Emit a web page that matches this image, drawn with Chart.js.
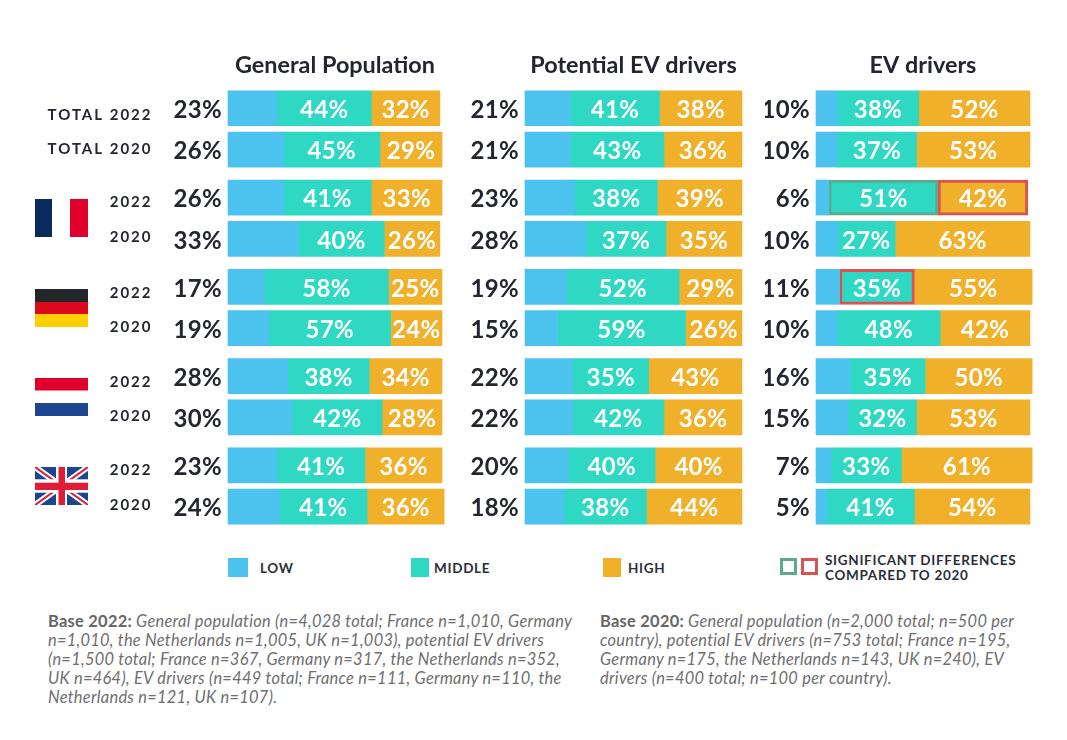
<!DOCTYPE html>
<html><head><meta charset="utf-8">
<script src="https://cdn.jsdelivr.net/npm/chart.js@4"></script>
<style>
html,body{margin:0;padding:0;background:#fff;width:1067px;height:740px;overflow:hidden;font-family:Lato,sans-serif}
canvas{position:absolute}
.sw{position:absolute}
.leg{position:absolute;font:700 13.5px Lato;color:#2b2e38;letter-spacing:.7px;white-space:nowrap;line-height:15px}
.note{position:absolute;font:italic 400 16.4px/19px Lato;letter-spacing:.28px;color:#6e6e6e;white-space:nowrap}
.note b{font-style:normal;font-weight:700;color:#666}
svg{position:absolute;left:35px}
</style></head><body>
<script>
const rowLabels=["TOTAL 2022","TOTAL 2020","2022","2020","2022","2020","2022","2020","2022","2020"];
const rowGroups=[0,0,1,1,2,2,3,3,4,4];
const labelShift=[7,0,5,-2,6,-1,6,-1,5,-2];
const panelTitles=["General Population","Potential EV drivers","EV drivers"];
const seriesNames=["Low","Middle","High"];
const gpLow=[23,26,26,33,17,19,28,30,23,24];
const gpMiddle=[44,45,41,40,58,57,38,42,41,41];
const gpHigh=[32,29,33,26,25,24,34,28,36,36];
const pevLow=[21,21,23,28,19,15,22,22,20,18];
const pevMiddle=[41,43,38,37,52,59,35,42,40,38];
const pevHigh=[38,36,39,35,29,26,43,36,40,44];
const evLow=[10,10,6,10,11,10,16,15,7,5];
const evMiddle=[38,37,51,27,35,48,35,32,33,41];
const evHigh=[52,53,42,63,55,42,50,53,61,54];
const C={low:'#4cc3ee',mid:'#2fd8c3',high:'#f0b02a',green:'#5fa88c',red:'#dc5252',ink:'#23262f'};
const FONT='Lato';
const rowPos=rowLabels.map((_,i)=>i+0.162*rowGroups[i]);

const valueLabels={id:'valueLabels',afterDatasetsDraw(ch){
  const c=ch.ctx;c.save();c.textBaseline='middle';
  ch.data.datasets.forEach((ds,d)=>{
    ch.getDatasetMeta(d).data.forEach((el,i)=>{
      const txt=ds.data[i].x+'%';
      c.letterSpacing='0.3px';
      c.font='700 24px '+FONT;
      if(d===0){c.fillStyle=C.ink;c.textAlign='right';c.fillText(txt,el.base-6,el.y+2);}
      else{c.fillStyle='#fff';c.textAlign='center';c.fillText(txt,(el.base+el.x)/2,el.y+2);}
    });
  });
  c.restore();
}};
const rowText={id:'rowText',afterDatasetsDraw(ch){
  const c=ch.ctx,y=ch.scales.y;c.save();
  c.textBaseline='middle';c.textAlign='right';c.fillStyle=C.ink;
  c.font='700 15px '+FONT;c.letterSpacing='2px';
  rowLabels.forEach((l,i)=>c.fillText(l,152.5,y.getPixelForValue(rowPos[i])+labelShift[i]));
  c.restore();
}};

function panel(left,cLeft,cWidth,area,title,low,mid,high,marks,plugins){
  const cv=document.createElement('canvas');
  cv.width=cWidth;cv.height=479;cv.style.left=cLeft+'px';cv.style.top='51px';
  document.body.appendChild(cv);
  const pts=a=>a.map((v,i)=>({x:v,y:rowPos[i]}));
  const ds=(name,a,col,mk)=>({label:name,data:pts(a),backgroundColor:col,clip:false,
    barThickness:35,borderSkipped:false,
    borderWidth:a.map((_,i)=>mk&&mk[i]?3:0),
    borderColor:a.map((_,i)=>mk&&mk[i]?mk[i]:col)});
  new Chart(cv,{type:'bar',
    data:{datasets:[ds(seriesNames[0],low,C.low),ds(seriesNames[1],mid,C.mid,marks&&marks.mid),ds(seriesNames[2],high,C.high,marks&&marks.high)]},
    plugins:[valueLabels].concat(plugins||[]),
    options:{indexAxis:'y',responsive:false,animation:false,devicePixelRatio:1,
      layout:{padding:{left:left,right:cWidth-left-area,top:0,bottom:0}},
      scales:{x:{type:'linear',stacked:true,min:0,max:100,display:false},
              y:{type:'linear',stacked:true,offset:false,reverse:true,min:-0.683,max:10.213,display:false}},
      plugins:{legend:{display:false},tooltip:{enabled:false},
        title:{display:true,text:title,fullSize:false,color:C.ink,font:{family:FONT,size:23.4,weight:'700'},padding:{top:0,bottom:1}}}}});
}
const G=C.green,R=C.red;
panel(228,0,462,214,panelTitles[0],gpLow,gpMiddle,gpHigh,null,[rowText]);
panel(63,462,303,217,panelTitles[1],pevLow,pevMiddle,pevHigh);
panel(51,765,302,214,panelTitles[2],evLow,evMiddle,evHigh,
  {mid:[0,0,G,0,R,0,0,0,0,0],high:[0,0,R,0,0,0,0,0,0,0]});
</script>

<svg style="top:199px" width="53" height="38"><rect width="17" height="38" fill="#0a2a5e"/><rect x="35" width="18" height="38" fill="#e0002b"/></svg>
<svg style="top:289px" width="53" height="38"><rect width="53" height="13" fill="#23262b"/><rect y="13" width="53" height="12" fill="#dd0a1e"/><rect y="25" width="53" height="13" fill="#fcd000"/></svg>
<svg style="top:378px" width="53" height="38"><rect width="53" height="12.5" fill="#e0002b"/><rect y="25" width="53" height="13" fill="#1d4691"/></svg>
<svg style="top:467px" width="53" height="38" viewBox="0 0 53 38">
<rect width="53" height="38" fill="#1d4691"/>
<path d="M0 0L53 38M53 0L0 38" stroke="#fff" stroke-width="6"/>
<path d="M0 0L53 38M53 0L0 38" stroke="#df1e36" stroke-width="2"/>
<rect x="21" width="11" height="38" fill="#fff"/><rect y="12.3" width="53" height="13.4" fill="#fff"/>
<rect x="23.5" width="6.5" height="38" fill="#df1e36"/><rect y="15.7" width="53" height="7.3" fill="#df1e36"/>
</svg>

<div class="sw" style="left:228px;top:558px;width:20px;height:19px;background:#4cc3ee"></div>
<div class="leg" style="left:260px;top:561px">LOW</div>
<div class="sw" style="left:411px;top:558px;width:18px;height:19px;background:#2fd8c3"></div>
<div class="leg" style="left:434px;top:561px">MIDDLE</div>
<div class="sw" style="left:603px;top:558px;width:18px;height:19px;background:#f0b02a"></div>
<div class="leg" style="left:628px;top:561px">HIGH</div>
<div class="sw" style="left:780px;top:558px;width:11px;height:11px;border:3px solid #5fa88c"></div>
<div class="sw" style="left:801px;top:558px;width:11px;height:11px;border:3px solid #dc5252"></div>
<div class="leg" style="left:825px;top:553px">SIGNIFICANT DIFFERENCES<br>COMPARED TO 2020</div>

<div class="note" style="left:48px;top:611px"><b>Base 2022:</b> General population (n=4,028 total; France n=1,010, Germany<br>n=1,010, the Netherlands n=1,005, UK n=1,003), potential EV drivers<br>(n=1,500 total; France n=367, Germany n=317, the Netherlands n=352,<br>UK n=464), EV drivers (n=449 total; France n=111, Germany n=110, the<br>Netherlands n=121, UK n=107).</div>
<div class="note" style="left:600px;top:611px"><b>Base 2020:</b> General population (n=2,000 total; n=500 per<br>country), potential EV drivers (n=753 total; France n=195,<br>Germany n=175, the Netherlands n=143, UK n=240), EV<br>drivers (n=400 total; n=100 per country).</div>
</body></html>
